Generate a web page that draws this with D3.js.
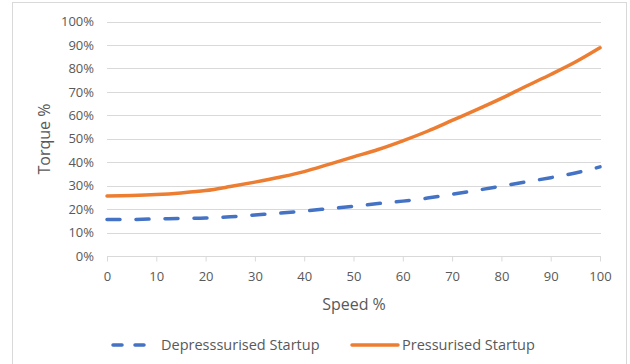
<!DOCTYPE html>
<html>
<head>
<meta charset="utf-8">
<script src="https://cdn.jsdelivr.net/npm/d3@7"></script>
<style>
  html, body { margin: 0; padding: 0; background: #fff; }
  svg { display: block; }
  text { font-family: "Open Sans", "Noto Sans", sans-serif; fill: #595959; }
</style>
</head>
<body>
<svg id="chart" width="630" height="364"></svg>
<script>
// Speed (% of rated) at which torque was sampled
const speeds = [0, 5, 10, 15, 20, 25, 30, 35, 40, 45, 50, 55, 60, 65, 70, 75, 80, 85, 90, 95, 100];
// Required torque (% of rated) for each startup case
const depressurised = [15.6, 15.6, 15.8, 16.0, 16.2, 16.7, 17.5, 18.3, 19.2, 20.2, 21.2, 22.4, 23.4, 24.7, 26.3, 28.0, 29.8, 31.6, 33.4, 35.4, 38.0];
const pressurised   = [25.6, 25.8, 26.2, 26.9, 27.9, 29.6, 31.5, 33.6, 36.0, 39.1, 42.3, 45.4, 49.1, 53.2, 57.8, 62.4, 67.2, 72.4, 77.4, 82.7, 88.8];
const xTicks = [0, 10, 20, 30, 40, 50, 60, 70, 80, 90, 100];
const yTicks = [0, 10, 20, 30, 40, 50, 60, 70, 80, 90, 100];
const seriesNames = ["Depresssurised Startup", "Pressurised Startup"];

const svg = d3.select("#chart");
const gridColor = "#d9d9d9";
const blue = "#4472c4", orange = "#ed7d31";

// outer chart frame
svg.append("rect")
  .attr("x", 12.5).attr("y", 2.5).attr("width", 614).attr("height", 400)
  .attr("fill", "none").attr("stroke", gridColor).attr("stroke-width", 1);

const x = d3.scaleLinear().domain([0, 100]).range([107, 600]);
const y = d3.scaleLinear().domain([0, 100]).range([256, 21.5]);

// horizontal gridlines
svg.append("g").selectAll("line")
  .data(yTicks.filter(d => d > 0))
  .join("line")
  .attr("x1", x(0)).attr("x2", x(100) + 1)
  .attr("y1", d => Math.round(y(d)) + 0.5).attr("y2", d => Math.round(y(d)) + 0.5)
  .attr("stroke", gridColor).attr("stroke-width", 1);

// y axis labels
const yAxis = d3.axisLeft(y).tickValues(yTicks).tickFormat(d => d + "%").tickSize(0).tickPadding(13);
const gy = svg.append("g").attr("transform", `translate(${x(0)},0)`).call(yAxis);
gy.select(".domain").remove();
gy.selectAll("text").style("font-size", "13px").attr("fill", "#595959");

// x axis with outward ticks
const xAxis = d3.axisBottom(x).tickValues(xTicks).tickSize(5).tickSizeOuter(0).tickPadding(10);
const gx = svg.append("g").attr("transform", `translate(0,${Math.round(y(0)) + 0.5})`).call(xAxis);
gx.select(".domain").attr("stroke", gridColor).attr("d", `M${x(0)},0H${x(100) + 1}`);
gx.selectAll(".tick line").attr("stroke", gridColor);
gx.selectAll("text").style("font-size", "13px").attr("fill", "#595959");

// axis titles
svg.append("text").attr("x", 354).attr("y", 310)
  .attr("text-anchor", "middle").style("font-size", "16px").text("Speed %");
svg.append("text").attr("transform", "translate(50,139) rotate(-90)")
  .attr("text-anchor", "middle").style("font-size", "16px").text("Torque %");

// series lines
const line = d3.line().x((d, i) => x(speeds[i])).y(d => y(d)).curve(d3.curveMonotoneX);

svg.append("path").datum(depressurised)
  .attr("d", line).attr("fill", "none")
  .attr("stroke", blue).attr("stroke-width", 3.5)
  .attr("stroke-dasharray", "13,16").attr("stroke-linecap", "round");

svg.append("path").datum(pressurised)
  .attr("d", line).attr("fill", "none")
  .attr("stroke", orange).attr("stroke-width", 3.5)
  .attr("stroke-linecap", "round");

// legend
const legendY = 345;
const lg = svg.append("g");
lg.append("line").attr("x1", 113).attr("x2", 154).attr("y1", legendY).attr("y2", legendY)
  .attr("stroke", blue).attr("stroke-width", 3.5)
  .attr("stroke-dasharray", "9,13").attr("stroke-linecap", "round");
lg.append("text").attr("x", 161).attr("y", legendY + 5).style("font-size", "14.5px").text(seriesNames[0]);
lg.append("line").attr("x1", 352).attr("x2", 398).attr("y1", legendY).attr("y2", legendY)
  .attr("stroke", orange).attr("stroke-width", 3.5).attr("stroke-linecap", "round");
lg.append("text").attr("x", 402).attr("y", legendY + 5).style("font-size", "14.5px").text(seriesNames[1]);
</script>
</body>
</html>
